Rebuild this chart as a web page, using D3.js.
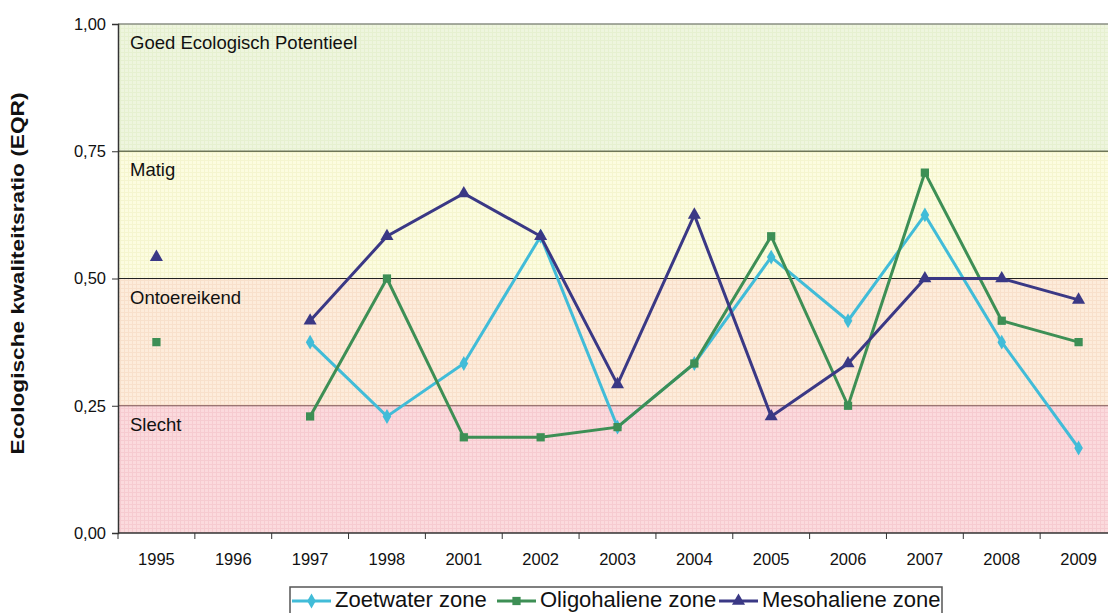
<!DOCTYPE html>
<html>
<head>
<meta charset="utf-8">
<script src="https://cdn.jsdelivr.net/npm/d3@7"></script>
<style>
  body { margin: 0; background: #fff; }
  svg { display: block; font-family: "Liberation Sans", Arial, sans-serif; }
</style>
</head>
<body>
<script>
// categorieën (jaren) en waarden per zone
const years = ['1995', '1996', '1997', '1998', '2001', '2002', '2003', '2004', '2005', '2006', '2007', '2008', '2009'];
const zoetwater = [null, null, 0.375, 0.229, 0.333, 0.583, 0.208, 0.333, 0.542, 0.417, 0.625, 0.375, 0.167];
const oligohaliene = [0.375, null, 0.229, 0.5, 0.188, 0.188, 0.208, 0.333, 0.583, 0.25, 0.708, 0.417, 0.375];
const mesohaliene = [0.542, null, 0.417, 0.583, 0.667, 0.583, 0.292, 0.625, 0.229, 0.333, 0.5, 0.5, 0.458];
const yTicks = [0, 0.25, 0.5, 0.75, 1];
const bands = [
    { from: 0.75, to: 1.0, label: 'Goed Ecologisch Potentieel' },
    { from: 0.5, to: 0.75, label: 'Matig' },
    { from: 0.25, to: 0.5, label: 'Ontoereikend' },
    { from: 0.0, to: 0.25, label: 'Slecht' }
];

const width = 1108, height = 613;
const plotLeft = 118, plotTop = 24, plotW = 999, plotBottom = 533;

const svg = d3.select('body').append('svg')
    .attr('width', width)
    .attr('height', height);

const x = d3.scaleBand().domain(years).range([plotLeft, plotLeft + plotW]);
const y = d3.scaleLinear().domain([0, 1]).range([plotBottom, plotTop]);

// achtergrond-patronen (gestippelde textuur)
const bandColors = ['#eef5de', '#fcfce0', '#fdecdb', '#fbdadd'];
const dotColors = ['#e6f0d0', '#f5f5cf', '#f8e0cb', '#f6cbd0'];
const defs = svg.append('defs');
bandColors.forEach((c, i) => {
    const p = defs.append('pattern')
        .attr('id', 'pat' + i)
        .attr('width', 4).attr('height', 4)
        .attr('patternUnits', 'userSpaceOnUse');
    p.append('rect').attr('width', 4).attr('height', 4).attr('fill', c);
    p.append('rect').attr('width', 1).attr('height', 4).attr('fill', dotColors[i]);
    p.append('rect').attr('width', 4).attr('height', 1).attr('fill', dotColors[i]);
});

svg.selectAll('.band')
    .data(bands)
    .enter()
    .append('rect')
    .attr('class', 'band')
    .attr('x', plotLeft)
    .attr('y', d => y(d.to))
    .attr('width', plotW)
    .attr('height', d => y(d.from) - y(d.to))
    .attr('fill', (d, i) => `url(#pat${i})`);

// grenslijnen tussen de klassen
const borderColors = { 1: '#8a8f84', 0.75: '#6e7658', 0.5: '#222', 0.25: '#7a4f4f' };
[1, 0.75, 0.5, 0.25].forEach(v => {
    svg.append('line')
        .attr('x1', plotLeft).attr('x2', plotLeft + plotW)
        .attr('y1', y(v)).attr('y2', y(v))
        .attr('stroke', borderColors[v])
        .attr('stroke-width', v === 1 || v === 0.75 ? 1.5 : 1);
});

svg.selectAll('.band-label')
    .data(bands)
    .enter()
    .append('text')
    .attr('x', plotLeft + 12)
    .attr('y', d => y(d.to) + 25)
    .attr('font-size', 18.5)
    .attr('fill', '#111')
    .text(d => d.label);

// assen
const yAxis = svg.append('g')
    .attr('transform', `translate(${plotLeft},0)`)
    .call(d3.axisLeft(y).tickValues(yTicks).tickSize(6).tickPadding(6)
        .tickFormat(d => d3.format('.2f')(d).replace('.', ',')));
yAxis.select('.domain').attr('stroke', '#333').attr('stroke-width', 1.5);
yAxis.selectAll('.tick line').attr('stroke', '#333');
yAxis.selectAll('text').attr('font-size', 16.5).attr('fill', '#111')
    .attr('font-family', '"Liberation Sans", Arial, sans-serif');

const xAxis = svg.append('g')
    .attr('transform', `translate(0,${plotBottom})`);
xAxis.append('line')
    .attr('x1', plotLeft).attr('x2', plotLeft + plotW)
    .attr('stroke', '#333').attr('stroke-width', 1.5);
xAxis.selectAll('.xtick')
    .data(years.concat(['end']))
    .enter()
    .append('line')
    .attr('x1', (d, i) => plotLeft + i * x.bandwidth())
    .attr('x2', (d, i) => plotLeft + i * x.bandwidth())
    .attr('y1', 0).attr('y2', 6)
    .attr('stroke', '#333');
xAxis.selectAll('.xlabel')
    .data(years)
    .enter()
    .append('text')
    .attr('x', d => x(d) + x.bandwidth() / 2)
    .attr('y', 32)
    .attr('text-anchor', 'middle')
    .attr('font-size', 16.5)
    .attr('fill', '#111')
    .text(d => d);

svg.append('text')
    .attr('transform', `translate(24,${(plotTop + plotBottom) / 2 - 5}) rotate(-90)`)
    .attr('text-anchor', 'middle')
    .attr('font-size', 19)
    .attr('font-weight', 'bold')
    .attr('fill', '#111')
    .attr('textLength', 362)
    .attr('lengthAdjust', 'spacingAndGlyphs')
    .text('Ecologische kwaliteitsratio (EQR)');

// reeksen
const series = [
    { name: 'Zoetwater zone', values: zoetwater, color: '#41bcd8', shape: d3.symbolDiamond, size: 64 },
    { name: 'Oligohaliene zone', values: oligohaliene, color: '#3d8f55', shape: d3.symbolSquare, size: 68 },
    { name: 'Mesohaliene zone', values: mesohaliene, color: '#3a3885', shape: d3.symbolTriangle, size: 74 }
];

const line = d3.line()
    .defined(d => d.v !== null)
    .x(d => x(d.year) + x.bandwidth() / 2)
    .y(d => y(d.v));

series.forEach(s => {
    const pts = years.map((yr, i) => ({ year: yr, v: s.values[i] }));
    svg.append('path')
        .datum(pts)
        .attr('fill', 'none')
        .attr('stroke', s.color)
        .attr('stroke-width', 3)
        .attr('d', line);
    svg.selectAll(null)
        .data(pts.filter(d => d.v !== null))
        .enter()
        .append('path')
        .attr('transform', d => `translate(${x(d.year) + x.bandwidth() / 2},${y(d.v)})`)
        .attr('d', d3.symbol().type(s.shape).size(s.size))
        .attr('fill', s.color);
});

// legenda
const legend = svg.append('g').attr('transform', 'translate(290,587)');
legend.append('rect')
    .attr('x', 0).attr('y', 0)
    .attr('width', 652).attr('height', 30)
    .attr('fill', '#fff')
    .attr('stroke', '#555')
    .attr('stroke-width', 1.5);
const legendX = [2, 207, 429];
series.forEach((s, i) => {
    const g = legend.append('g').attr('transform', `translate(${legendX[i]},0)`);
    g.append('line')
        .attr('x1', 0).attr('x2', 39)
        .attr('y1', 14).attr('y2', 14)
        .attr('stroke', s.color).attr('stroke-width', 3);
    g.append('path')
        .attr('transform', 'translate(19.5,14)')
        .attr('d', d3.symbol().type(s.shape).size(s.size))
        .attr('fill', s.color);
    g.append('text')
        .attr('x', 43)
        .attr('y', 20)
        .attr('font-size', 22)
        .attr('fill', '#111')
        .text(s.name);
});
</script>
</body>
</html>
